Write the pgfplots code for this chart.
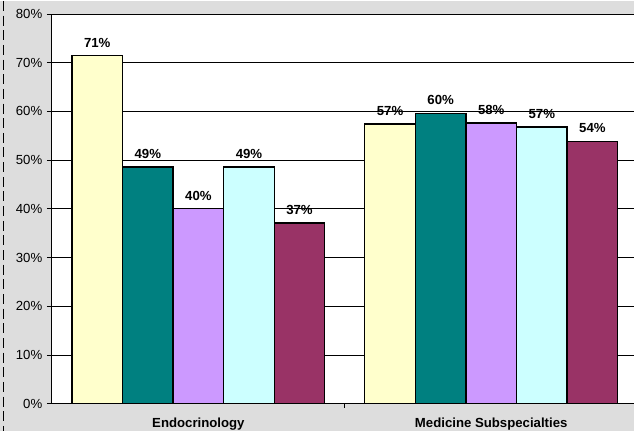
\documentclass[border=0pt]{standalone}
\usepackage{pgfplots}
\pgfplotsset{compat=1.18}
\usepackage{fontspec}
\setmainfont{Liberation Sans}

\definecolor{chartbg}{HTML}{DDDDDD}
\definecolor{sYellow}{HTML}{FFFFCC}
\definecolor{sTeal}{HTML}{008080}
\definecolor{sLavender}{HTML}{CC99FF}
\definecolor{sCyan}{HTML}{CCFFFF}
\definecolor{sMaroon}{HTML}{993366}

\newcommand{\lblfont}{\fontsize{9.9}{11.8}\selectfont}

\begin{document}
\begin{tikzpicture}[x=0.75pt,y=0.75pt]
% chart area and frame
\fill[chartbg] (0,0) rectangle (634,430);
\draw[black,line width=1.4pt,dash pattern=on 7.5pt off 3.5pt] (3.5,430) -- (3.5,0);
\fill[white] (52,27) rectangle (634,417);
\begin{axis}[
  at={(39pt,20.25pt)}, anchor=south west,
  scale only axis, width=436.5pt, height=292.5pt,
  xmin=-0.5, xmax=1.486, ymin=0, ymax=80,
  axis lines*=left,
  axis line style={black,line width=0.7pt},
  ybar=0pt, bar width=0.1727,
  ytick={0,10,...,80},
  yticklabel={\pgfmathprintnumber{\tick}\%},
  /pgf/number format/assume math mode=true,
  yticklabel style={font=\lblfont},
  ymajorgrids, grid style={black,line width=0.6pt},
  tick align=outside, major tick length=3.75pt,
  ytick style={black,line width=0.6pt},
  xtick={0,1},
  xticklabels={Endocrinology,Medicine Subspecialties},
  xticklabel style={font=\lblfont\bfseries,yshift=-3.75pt},
  x tick style={draw=none},
  every axis plot/.append style={draw=black,line width=1pt},
  nodes near coords={\pgfmathprintnumber[fixed,precision=0]{\pgfplotspointmeta}\%},
  every node near coord/.append style={font=\lblfont\bfseries,anchor=base,yshift=6.5pt,
    /pgf/number format/assume math mode=true},
  clip=false,
]
\addplot[fill=sYellow]   coordinates {(0,71.4) (1,57.4)};
\addplot[fill=sTeal]     coordinates {(0,48.6) (1,59.6)};
\addplot[fill=sLavender] coordinates {(0,40.0) (1,57.6)};
\addplot[fill=sCyan]     coordinates {(0,48.6) (1,56.8)};
\addplot[fill=sMaroon]   coordinates {(0,37.1) (1,53.8)};
% category separator tick
\draw[black,line width=0.6pt] (axis cs:0.5,0) -- ([yshift=-3pt]axis cs:0.5,0);
\end{axis}
\end{tikzpicture}
\end{document}
